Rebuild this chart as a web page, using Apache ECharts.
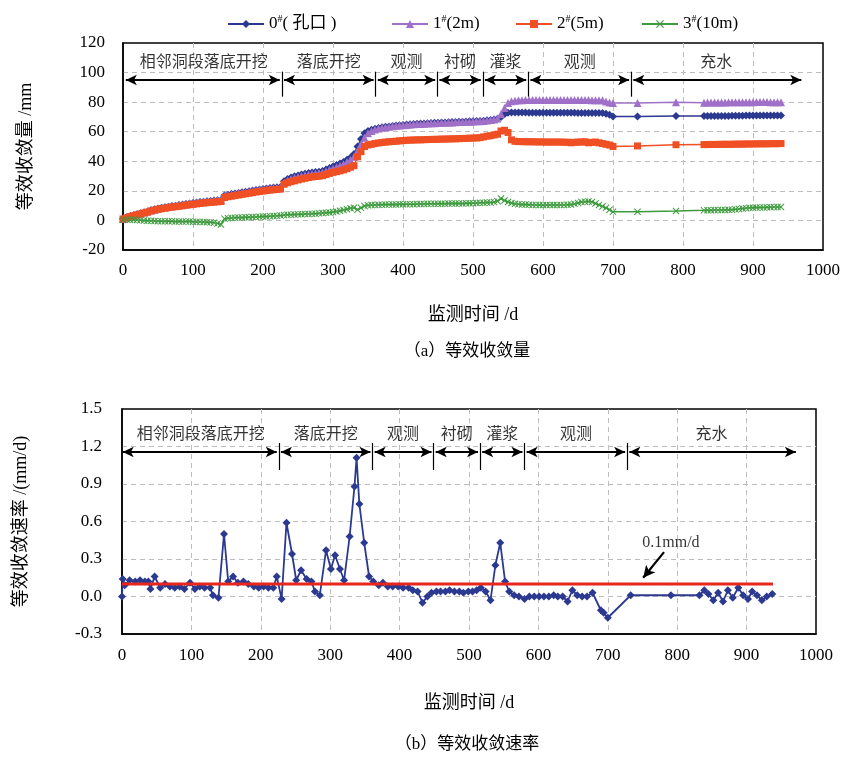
<!DOCTYPE html>
<html><head><meta charset="utf-8">
<script src="https://cdn.jsdelivr.net/npm/echarts@6/dist/echarts.min.js"></script>
<style>html,body{margin:0;padding:0;background:#fff}#c{width:843px;height:757px}</style>
</head><body><div id="c"></div>
<script>
// ---------- data (a): equivalent convergence, mm ----------
const days = [0,5,10,15,20,25,30,35,40,45,50,55,60,65,70,75,80,85,90,95,
100,105,110,115,120,125,130,135,140,145,150,155,160,165,170,175,180,185,190,195,
200,205,210,215,220,225,230,235,240,245,250,255,260,265,270,275,280,285,290,295,
300,305,310,315,320,325,330,335,340,345,350,355,360,365,370,375,380,385,390,395,
400,405,410,415,420,425,430,435,440,445,450,455,460,465,470,475,480,485,490,495,
500,505,510,515,520,525,530,535,540,545,550,555,560,565,570,575,580,585,590,595,
600,605,610,615,620,625,630,635,640,645,650,655,660,665,670,675,680,685,690,695,
700,735,790,
830,835,840,845,850,855,860,865,870,875,880,885,890,895,900,905,910,915,920,925,930,935,940];

const s0 = [1.0,2.0,2.8,3.5,4.1,4.8,5.4,6.1,6.8,7.5,8.0,8.5,8.9,9.3,9.7,10.0,10.4,10.7,11.1,11.5,
11.8,12.1,12.4,12.7,13.0,13.2,13.4,13.7,13.9,16.8,17.3,17.8,18.2,18.6,19.0,19.4,19.8,20.2,20.6,21.0,
21.3,21.6,21.9,22.2,22.4,22.6,26.5,28.0,29.0,29.8,30.4,31.0,31.6,32.0,32.4,32.8,33.0,33.5,34.5,35.5,
36.5,37.5,38.5,39.5,41.0,42.5,45.0,50.0,55.0,59.0,60.5,61.3,62.0,62.5,63.0,63.3,63.6,63.9,64.2,64.4,
64.6,64.8,65.0,65.2,65.4,65.5,65.6,65.8,65.9,66.0,66.1,66.2,66.3,66.4,66.5,66.6,66.7,66.8,66.9,67.0,
67.1,67.2,67.3,67.5,67.8,68.0,68.3,68.8,70.0,71.8,72.8,73.0,73.0,73.0,73.0,73.0,72.9,72.9,72.9,72.9,
72.9,72.9,72.8,72.8,72.8,72.8,72.8,72.8,72.8,72.8,72.7,72.7,72.7,72.7,72.7,72.6,72.6,72.6,72.2,71.5,
70.3,70.3,70.6,
70.6,70.6,70.6,70.7,70.7,70.7,70.7,70.7,70.8,70.8,70.8,70.8,70.9,70.9,71.0,71.0,70.9,70.9,70.9,70.9,70.9,70.9,70.9];

const s1 = [0.9,1.9,2.7,3.4,4.0,4.7,5.3,6.0,6.7,7.3,7.9,8.4,8.8,9.2,9.6,9.9,10.3,10.6,11.0,11.4,
11.7,12.0,12.3,12.6,12.9,13.1,13.3,13.6,13.8,16.5,17.0,17.5,17.9,18.3,18.7,19.1,19.5,19.9,20.3,20.7,
21.0,21.3,21.6,21.9,22.1,22.3,25.5,27.0,28.0,28.8,29.4,30.0,30.6,31.0,31.4,31.8,32.0,32.5,33.3,34.2,
35.0,36.0,37.0,38.0,39.5,41.0,43.0,47.0,51.5,56.0,59.0,60.5,61.5,62.2,62.7,63.0,63.4,63.7,64.0,64.2,
64.4,64.6,64.8,65.0,65.2,65.3,65.4,65.6,65.7,65.8,65.9,66.0,66.1,66.2,66.3,66.4,66.5,66.6,66.7,66.8,
66.9,67.0,67.1,67.3,67.6,67.9,68.3,69.0,72.0,76.0,79.5,80.6,81.0,81.2,81.3,81.4,81.4,81.4,81.4,81.4,
81.4,81.4,81.4,81.4,81.4,81.4,81.4,81.4,81.4,81.4,81.4,81.4,81.4,81.4,81.3,81.3,81.2,81.2,80.5,79.8,
79.4,79.5,79.9,
79.6,79.7,79.7,79.8,79.8,79.8,79.8,79.9,79.9,79.9,79.9,80.0,80.0,80.0,80.0,80.1,80.1,80.1,80.1,80.0,80.0,79.9,79.9];

const s2 = [1.0,1.8,2.6,3.2,3.8,4.4,5.0,5.6,6.4,7.0,7.5,7.9,8.3,8.7,9.0,9.3,9.6,9.9,10.3,10.6,
10.9,11.2,11.5,11.8,12.0,12.2,12.4,12.6,12.8,15.5,16.0,16.4,16.8,17.2,17.6,18.0,18.4,18.8,19.2,19.6,
19.9,20.2,20.5,20.8,21.0,21.2,24.5,25.5,26.2,26.8,27.4,28.0,28.5,29.0,29.4,29.7,29.9,30.3,31.0,31.8,
32.5,33.0,33.5,34.2,35.0,36.0,37.0,43.0,46.5,50.0,51.0,51.5,52.0,52.4,52.7,53.0,53.2,53.4,53.6,53.8,
54.0,54.2,54.3,54.4,54.5,54.5,54.6,54.7,54.8,54.8,54.9,55.0,55.0,55.1,55.2,55.2,55.3,55.4,55.5,55.6,
55.7,55.8,56.0,56.5,57.0,57.3,57.8,58.3,60.5,61.0,59.5,54.5,53.5,53.3,53.3,53.2,53.2,53.2,53.1,53.1,
53.1,53.0,53.0,53.0,53.0,53.0,52.9,52.9,52.5,52.8,53.0,53.0,53.2,52.5,52.8,53.0,52.5,52.0,51.5,51.0,
50.0,50.4,51.2,
51.3,51.3,51.4,51.4,51.4,51.5,51.5,51.5,51.5,51.6,51.6,51.6,51.7,51.7,51.7,51.8,51.8,51.8,51.8,51.9,51.9,51.9,52.0];

const s3 = [0.5,0.6,0.5,0.4,0.3,0.2,0.0,-0.2,-0.3,-0.4,-0.5,-0.5,-0.6,-0.6,-0.6,-0.7,-0.7,-0.8,-0.8,-0.8,
-0.9,-1.0,-1.0,-1.1,-1.2,-1.3,-1.5,-2.0,-2.8,1.2,1.5,1.7,1.8,1.9,2.0,2.1,2.2,2.3,2.4,2.5,
2.6,2.7,2.9,3.0,3.1,3.3,3.6,3.8,3.9,4.0,4.1,4.2,4.3,4.4,4.5,4.6,4.8,5.0,5.2,5.4,
5.7,6.0,6.5,7.0,7.6,8.2,8.6,7.3,8.5,9.8,10.2,10.4,10.5,10.6,10.6,10.7,10.7,10.8,10.8,10.9,
10.9,11.0,11.0,11.0,11.1,11.1,11.1,11.2,11.2,11.2,11.3,11.3,11.3,11.4,11.4,11.4,11.5,11.5,11.6,11.6,
11.7,11.8,11.9,12.0,12.1,12.2,12.4,13.0,14.8,13.5,12.5,11.8,11.3,11.0,10.8,10.7,10.6,10.5,10.5,10.4,
10.4,10.4,10.4,10.4,10.4,10.5,10.5,10.6,10.8,11.2,11.8,12.4,12.7,12.8,12.4,11.5,10.5,9.5,8.5,7.2,
5.8,5.9,6.4,
6.8,6.9,6.9,7.0,7.0,7.0,7.1,7.2,7.3,7.5,7.8,8.1,8.3,8.5,8.6,8.7,8.8,8.8,8.9,8.9,9.0,9.0,9.1];

const seriesNames = ['0#( 孔口 )','1#(2m)','2#(5m)','3#(10m)'];

// ---------- data (b): convergence rate, mm/d ----------
const rateDays = [0,1,4,11,19,26,33,38,41,47,
55,62,69,76,83,90,98,105,112,119,
127,131,139,147,153,160,167,175,182,190,
197,204,211,218,223,230,237,245,251,258,
266,273,278,285,294,301,307,314,320,328,
335,338,342,349,356,362,370,376,383,390,
398,405,413,419,426,433,440,446,453,459,
466,472,479,486,492,499,505,511,517,524,
531,538,545,552,558,565,572,580,587,594,
601,608,615,622,628,635,642,649,656,663,
670,678,690,694,700,733,791,832,839,845,
852,859,866,873,880,888,895,902,908,915,
922,929,937];
const rateVals = [0.00,0.14,0.09,0.13,0.12,0.13,0.12,0.12,0.06,0.16,
0.07,0.10,0.08,0.07,0.08,0.06,0.11,0.06,0.08,0.07,
0.07,0.01,-0.01,0.50,0.12,0.16,0.11,0.12,0.10,0.08,
0.07,0.08,0.07,0.07,0.16,-0.02,0.59,0.34,0.13,0.21,
0.14,0.12,0.04,0.01,0.37,0.22,0.33,0.22,0.13,0.48,
0.88,1.11,0.74,0.43,0.16,0.12,0.09,0.11,0.08,0.08,
0.08,0.07,0.07,0.05,0.04,-0.05,0.00,0.03,0.04,0.04,
0.04,0.05,0.04,0.04,0.03,0.04,0.04,0.05,0.07,0.04,
-0.03,0.25,0.43,0.12,0.04,0.01,0.00,-0.02,0.00,0.00,
0.00,0.00,0.00,0.01,0.00,0.00,-0.04,0.05,0.01,0.00,
0.00,0.03,-0.11,-0.13,-0.17,0.01,0.01,0.01,0.05,0.02,
-0.03,0.03,-0.04,0.05,-0.01,0.07,0.01,-0.02,0.04,0.01,
-0.03,0.00,0.02];
const limitX = [0, 938];
const limitY = [0.1, 0.1];
const limitText = '0.1mm/d';

// ---------- construction phases ----------
const phaseNames = ['相邻洞段落底开挖','落底开挖','观测','衬砌','灌浆','观测','充水'];
const phaseBoundsA = [4,227,361,449,514,579,726,969];
const phaseBoundsB = [1,226,361,449,516,580,728,971];

// ---------- chart ----------
const F = "'Liberation Serif','Noto Sans CJK SC',serif";
const C = {blue:'#2b3990', purple:'#a070c8', red:'#f04e23', green:'#3d9a3d', lim:'#e8261c'};
const starPath = 'path://M1,0 L5,4 L9,0 L10,1 L6,5 L10,9 L9,10 L5,6 L1,10 L0,9 L4,5 L0,1 Z';
const pairs = (xs, ys) => xs.map((x, i) => [x, ys[i]]);

function phaseSeries(b, yArrow, yTop, yBot, yLabel, idx) {
  const labels = phaseNames.map((n, i) => [(b[i] + b[i + 1]) / 2, yLabel, n]);
  const ml = [];
  for (let i = 0; i < 7; i++) {
    ml.push([{coord: [i === 0 ? b[0] : b[i] + 3, yArrow]}, {coord: [i === 6 ? b[7] : b[i + 1] - 3, yArrow]}]);
  }
  for (let i = 1; i < 7; i++) {
    ml.push([{coord: [b[i], yTop], symbol: 'none', lineStyle: {width: 1.2}},
             {coord: [b[i], yBot], symbol: 'none', lineStyle: {width: 1.2}}]);
  }
  return {
    type: 'scatter', xAxisIndex: idx, yAxisIndex: idx, data: labels, symbolSize: 1,
    itemStyle: {color: 'rgba(0,0,0,0)'}, silent: true, z: 5,
    label: {show: true, position: 'inside', formatter: p => p.data[2], fontSize: 16, color: '#000', fontFamily: F},
    markLine: {silent: true, symbol: ['arrow', 'arrow'], symbolSize: [8, 11], label: {show: false},
      lineStyle: {color: '#000', width: 1.8, type: 'solid'}, data: ml, animation: false}
  };
}

const axisLabel = {color: '#000', fontSize: 17, fontFamily: F};
const split = {show: true, showMinLine: false, showMaxLine: false, lineStyle: {color: '#bdbdbd', type: [5, 4], width: 1}};
const blackLine = {show: true, onZero: false, lineStyle: {color: '#000', width: 1.5}};

function legendFor(i, left) {
  return {
    data: [seriesNames[i]], left: left, top: 9, itemWidth: 36, itemHeight: 10, itemGap: 0,
    formatter: n => {
      const m = n.match(/^(\d)#(.*)$/);
      return '{n|' + m[1] + '}{s|#}{n|' + m[2] + '}';
    },
    textStyle: {color: '#000', fontFamily: F, fontSize: 17,
      rich: {n: {fontSize: 17, fontFamily: F, color: '#000', lineHeight: 20},
             s: {fontSize: 10, fontFamily: F, color: '#000', verticalAlign: 'top', lineHeight: 20, padding: [0, 0, 8, 0]}}}
  };
}

const option = {
  animation: false,
  backgroundColor: '#fff',
  legend: [legendFor(0, 222), legendFor(1, 386), legendFor(2, 510), legendFor(3, 636)],
  grid: [
    {left: 123, top: 43, width: 702, height: 207, show: true, borderColor: '#000', borderWidth: 1.5, backgroundColor: 'transparent'},
    {left: 122, top: 409, width: 694, height: 225, show: true, borderColor: '#000', borderWidth: 1.5, backgroundColor: 'transparent'}
  ],
  xAxis: [
    {gridIndex: 0, type: 'value', min: 0, max: 1000, interval: 100, axisLine: blackLine, axisTick: {show: false},
     axisLabel: Object.assign({margin: 12, formatter: v => String(v)}, axisLabel), splitLine: split,
     name: '监测时间 /d', nameLocation: 'middle', nameGap: 56, nameTextStyle: {color: '#000', fontSize: 18, fontFamily: F}},
    {gridIndex: 1, type: 'value', min: 0, max: 1000, interval: 100, axisLine: blackLine, axisTick: {show: false},
     axisLabel: Object.assign({margin: 13, formatter: v => String(v)}, axisLabel), splitLine: split,
     name: '监测时间 /d', nameLocation: 'middle', nameGap: 60, nameTextStyle: {color: '#000', fontSize: 18, fontFamily: F}}
  ],
  yAxis: [
    {gridIndex: 0, type: 'value', min: -20, max: 120, interval: 20, axisLine: blackLine, axisTick: {show: false},
     axisLabel: Object.assign({margin: 18}, axisLabel), splitLine: split,
     name: '等效收敛量 /mm', nameLocation: 'middle', nameRotate: 90, nameGap: 88, nameTextStyle: {color: '#000', fontSize: 18, fontFamily: F}},
    {gridIndex: 1, type: 'value', min: -0.3, max: 1.5, interval: 0.3, axisLine: blackLine, axisTick: {show: false},
     axisLabel: Object.assign({margin: 20, formatter: v => v.toFixed(1)}, axisLabel), splitLine: split,
     name: '等效收敛速率 /(mm/d)', nameLocation: 'middle', nameRotate: 90, nameGap: 92, nameTextStyle: {color: '#000', fontSize: 18, fontFamily: F}}
  ],
  graphic: [
    {type: 'text', x: 467, y: 352, style: {text: '（a）等效收敛量', font: "17px 'Liberation Serif','Noto Sans CJK SC',serif", fill: '#000', textAlign: 'center', textVerticalAlign: 'middle'}},
    {type: 'text', x: 467, y: 745, style: {text: '（b）等效收敛速率', font: "17px 'Liberation Serif','Noto Sans CJK SC',serif", fill: '#000', textAlign: 'center', textVerticalAlign: 'middle'}}
  ],
  series: [
    {name: seriesNames[0], type: 'line', xAxisIndex: 0, yAxisIndex: 0, data: pairs(days, s0), symbol: 'diamond', symbolSize: 8,
     lineStyle: {width: 1.5, color: C.blue}, itemStyle: {color: C.blue}},
    {name: seriesNames[1], type: 'line', xAxisIndex: 0, yAxisIndex: 0, data: pairs(days, s1), symbol: 'triangle', symbolSize: 8,
     lineStyle: {width: 1.5, color: C.purple}, itemStyle: {color: C.purple}},
    {name: seriesNames[2], type: 'line', xAxisIndex: 0, yAxisIndex: 0, data: pairs(days, s2), symbol: 'rect', symbolSize: 7,
     lineStyle: {width: 1.5, color: C.red}, itemStyle: {color: C.red}},
    {name: seriesNames[3], type: 'line', xAxisIndex: 0, yAxisIndex: 0, data: pairs(days, s3), symbol: starPath, symbolSize: 7,
     lineStyle: {width: 1.5, color: C.green}, itemStyle: {color: C.green}},
    phaseSeries(phaseBoundsA, 95, 100.6, 83.7, 106.5, 0),
    {name: 'rate', type: 'line', xAxisIndex: 1, yAxisIndex: 1, data: pairs(rateDays, rateVals), symbol: 'diamond', symbolSize: 8,
     lineStyle: {width: 1.8, color: C.blue}, itemStyle: {color: C.blue}},
    {name: 'limit', type: 'line', xAxisIndex: 1, yAxisIndex: 1, data: pairs(limitX, limitY), symbol: 'none',
     lineStyle: {width: 3, color: C.lim}, z: 4},
    phaseSeries(phaseBoundsB, 1.156, 1.228, 1.012, 1.292, 1),
    {name: 'limitNote', type: 'scatter', xAxisIndex: 1, yAxisIndex: 1, data: [[791, 0.43, limitText]], symbolSize: 1,
     itemStyle: {color: 'rgba(0,0,0,0)'}, silent: true,
     label: {show: true, position: 'inside', formatter: p => p.data[2], fontSize: 16, color: '#000', fontFamily: F},
     markLine: {silent: true, symbol: ['none', 'arrow'], symbolSize: [9, 12], label: {show: false},
       lineStyle: {color: '#000', width: 2.2, type: 'solid'}, animation: false,
       data: [[{coord: [781, 0.355]}, {coord: [751, 0.15]}]]}}
  ]
};
const chart = echarts.init(document.getElementById('c'));
chart.setOption(option);
</script>
</body></html>
